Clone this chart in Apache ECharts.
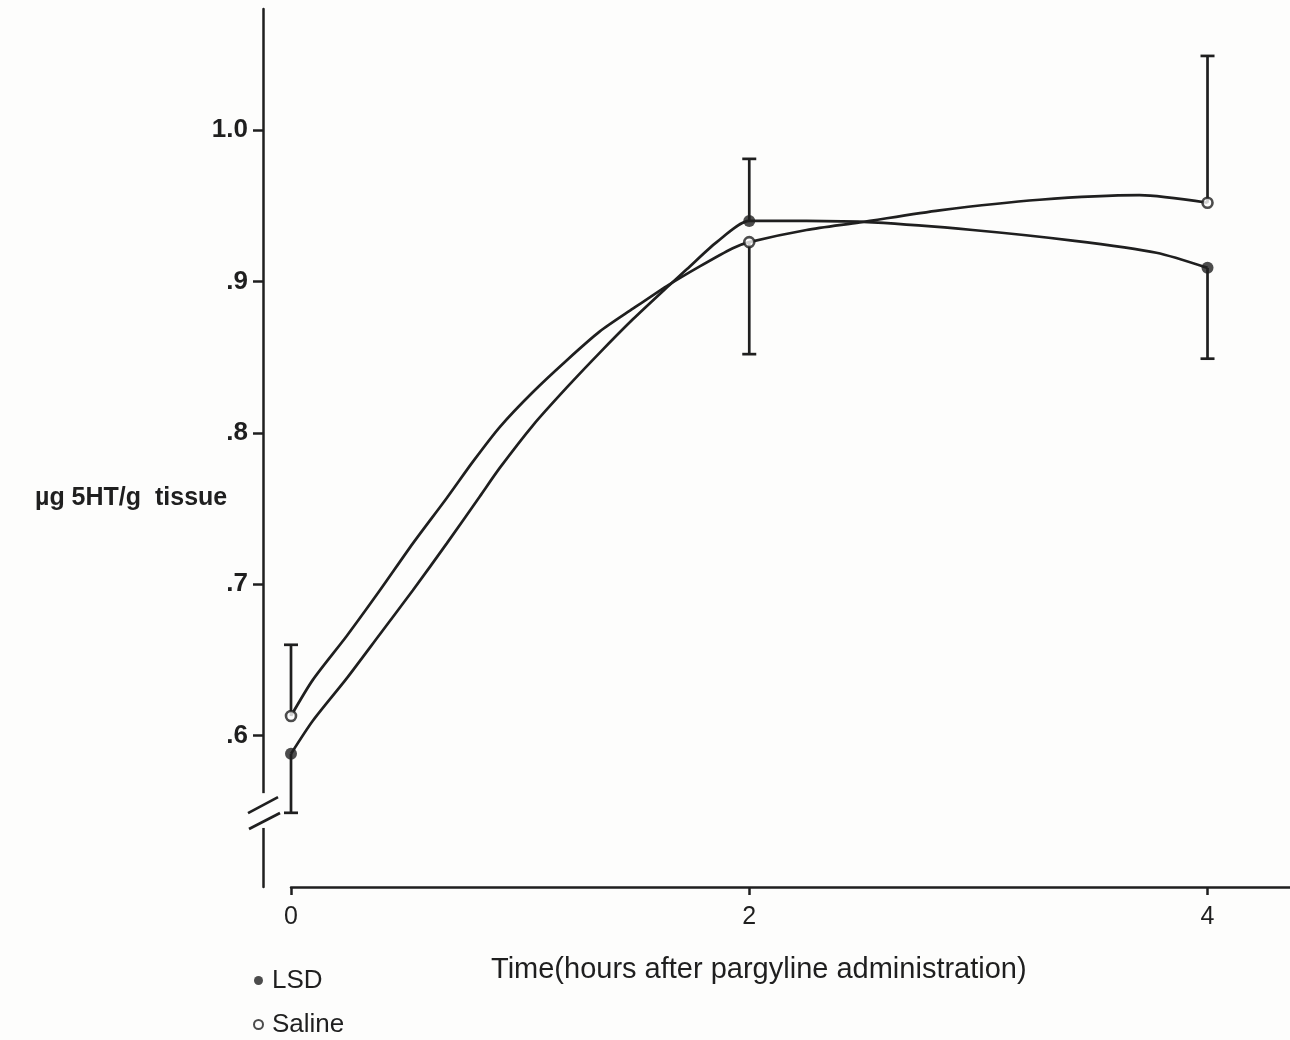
<!DOCTYPE html>
<html>
<head>
<meta charset="utf-8">
<script src="https://cdn.jsdelivr.net/npm/echarts@6/dist/echarts.min.js"></script>
<style>
  html, body { margin: 0; padding: 0; background: #fdfdfc; }
  #chart { width: 1290px; height: 1040px; }
</style>
</head>
<body>
<div id="chart"></div>
<script>
// Time points (hours after pargyline administration)
const times = [0, 2, 4];
// Mean brain 5HT (µg/g tissue)
const lsdMeans = [0.588, 0.940, 0.909];
const salineMeans = [0.613, 0.926, 0.952];
// One-sided error bars: [time, from (mean), to (bound)]
const errorBars = [
  [0, 0.613, 0.660],
  [0, 0.588, 0.549],
  [2, 0.940, 0.981],
  [2, 0.926, 0.852],
  [4, 0.952, 1.049],
  [4, 0.909, 0.849]
];
// Hand-drawn fitted curves, traced as [time, value]
const lsdCurve = [
  [0, 0.588], [0.096, 0.610], [0.244, 0.638], [0.388, 0.667], [0.532, 0.696],
  [0.680, 0.727], [0.824, 0.758], [0.912, 0.777], [1.056, 0.805], [1.204, 0.830],
  [1.348, 0.853], [1.492, 0.875], [1.640, 0.896], [1.727, 0.908], [1.858, 0.926],
  [2.0, 0.940], [2.25, 0.940], [2.539, 0.939], [2.975, 0.934], [3.411, 0.927],
  [3.777, 0.919], [4.0, 0.909]
];
const salineCurve = [
  [0, 0.613], [0.096, 0.637], [0.244, 0.666], [0.388, 0.696], [0.532, 0.727],
  [0.680, 0.757], [0.794, 0.781], [0.912, 0.804], [1.056, 0.827], [1.204, 0.848],
  [1.348, 0.867], [1.492, 0.882], [1.640, 0.897], [1.784, 0.910], [1.928, 0.922],
  [2.0, 0.926], [2.25, 0.934], [2.482, 0.939], [2.831, 0.947], [3.267, 0.954],
  [3.703, 0.957], [4.0, 0.952]
];
// Axis ticks
const xTicks = [0, 2, 4];
const yTicks = [0.6, 0.7, 0.8, 0.9, 1.0];
// Interrupted stretch of the value axis
const axisBreak = [0.539, 0.562];

const ink = '#1f1f1f';
const paper = '#fdfdfc';
const font = 'Liberation Sans';
const yAxisOffset = 28;

const chart = echarts.init(document.getElementById('chart'), null, { renderer: 'canvas' });

const titleGraphics = [
  { id: 'yTitle', type: 'text', left: 35, top: 486,
    style: { text: 'µg 5HT/g  tissue', fill: ink, font: 'bold 25px "Liberation Sans"' } },
  { id: 'xTitle', type: 'text', left: 491, top: 955,
    style: { text: 'Time(hours after pargyline administration)', fill: ink, font: '29px "Liberation Sans"' } }
];

const option = {
  backgroundColor: paper,
  animation: false,
  grid: { left: 291, right: 0, top: 9, bottom: 153, containLabel: false },
  xAxis: {
    type: 'value', min: 0, max: 4.36,
    splitLine: { show: false },
    axisLine: { show: true, onZero: false, lineStyle: { color: ink, width: 2.5 } },
    axisTick: { show: true, customValues: xTicks, length: 8, lineStyle: { color: ink, width: 2.5 } },
    axisLabel: { customValues: xTicks, margin: 18, color: ink, fontFamily: font, fontSize: 25 }
  },
  yAxis: {
    type: 'value', min: 0.5, max: 1.08,
    position: 'left', offset: yAxisOffset,
    splitLine: { show: false },
    axisLine: { show: true, onZero: false, lineStyle: { color: ink, width: 2.5 } },
    axisTick: { show: true, customValues: yTicks, length: 10, lineStyle: { color: ink, width: 2.5 } },
    axisLabel: {
      customValues: yTicks, margin: 15, color: ink, fontFamily: font, fontSize: 26, fontWeight: 'bold',
      formatter: v => (Math.abs(v - 1) < 1e-9 ? '1.0' : '.' + Math.round(v * 10))
    }
  },
  legend: {
    data: ['LSD', 'Saline'],
    orient: 'vertical', left: 253, top: 967, padding: 0,
    itemWidth: 9, itemHeight: 9, itemGap: 17,
    icon: 'circle',
    textStyle: { color: ink, fontFamily: font, fontSize: 26, lineHeight: 27, padding: [0, 0, 0, 4] },
    selectedMode: false
  },
  graphic: titleGraphics,
  series: [
    {
      name: 'LSD curve', type: 'line', data: lsdCurve, smooth: 0.25,
      showSymbol: false, lineStyle: { color: ink, width: 2.7 }, z: 2, silent: true
    },
    {
      name: 'Saline curve', type: 'line', data: salineCurve, smooth: 0.25,
      showSymbol: false, lineStyle: { color: ink, width: 2.7 }, z: 2, silent: true
    },
    {
      name: 'SE', type: 'custom', z: 3, silent: true,
      data: errorBars,
      renderItem: function (params, api) {
        const p0 = api.coord([api.value(0), api.value(1)]);
        const p1 = api.coord([api.value(0), api.value(2)]);
        const half = 7;
        const st = { stroke: ink, lineWidth: 2.7 };
        return {
          type: 'group',
          children: [
            { type: 'line', shape: { x1: p0[0], y1: p0[1], x2: p1[0], y2: p1[1] }, style: st },
            { type: 'line', shape: { x1: p1[0] - half, y1: p1[1], x2: p1[0] + half, y2: p1[1] }, style: st }
          ]
        };
      }
    },
    {
      name: 'LSD', type: 'scatter', z: 5,
      data: times.map((t, i) => [t, lsdMeans[i]]),
      symbol: 'circle', symbolSize: 12,
      itemStyle: { color: ink, borderColor: ink, borderWidth: 0 }
    },
    {
      name: 'Saline', type: 'scatter', z: 5,
      data: times.map((t, i) => [t, salineMeans[i]]),
      symbol: 'circle', symbolSize: 10,
      itemStyle: { color: paper, borderColor: ink, borderWidth: 2.6 }
    }
  ]
};

chart.setOption(option);

// Axis break: gap in the value axis with a pair of slanted strokes
(function drawBreak() {
  const lo = chart.convertToPixel({ gridIndex: 0 }, [0, axisBreak[0]]);
  const hi = chart.convertToPixel({ gridIndex: 0 }, [0, axisBreak[1]]);
  const ax = lo[0] - yAxisOffset;
  const yTop = hi[1], yBot = lo[1];
  const st = { stroke: ink, lineWidth: 2.7 };
  chart.setOption({
    graphic: titleGraphics.concat([
      { id: 'gap', type: 'rect', z: 10, shape: { x: ax - 4, y: yTop, width: 8, height: yBot - yTop },
        style: { fill: paper } },
      { id: 'slash1', type: 'line', z: 11, shape: { x1: ax - 15, y1: yTop + 20, x2: ax + 15, y2: yTop + 4 }, style: st },
      { id: 'slash2', type: 'line', z: 11, shape: { x1: ax - 14, y1: yBot + 1, x2: ax + 17, y2: yBot - 15 }, style: st }
    ])
  });
})();
</script>
</body>
</html>
